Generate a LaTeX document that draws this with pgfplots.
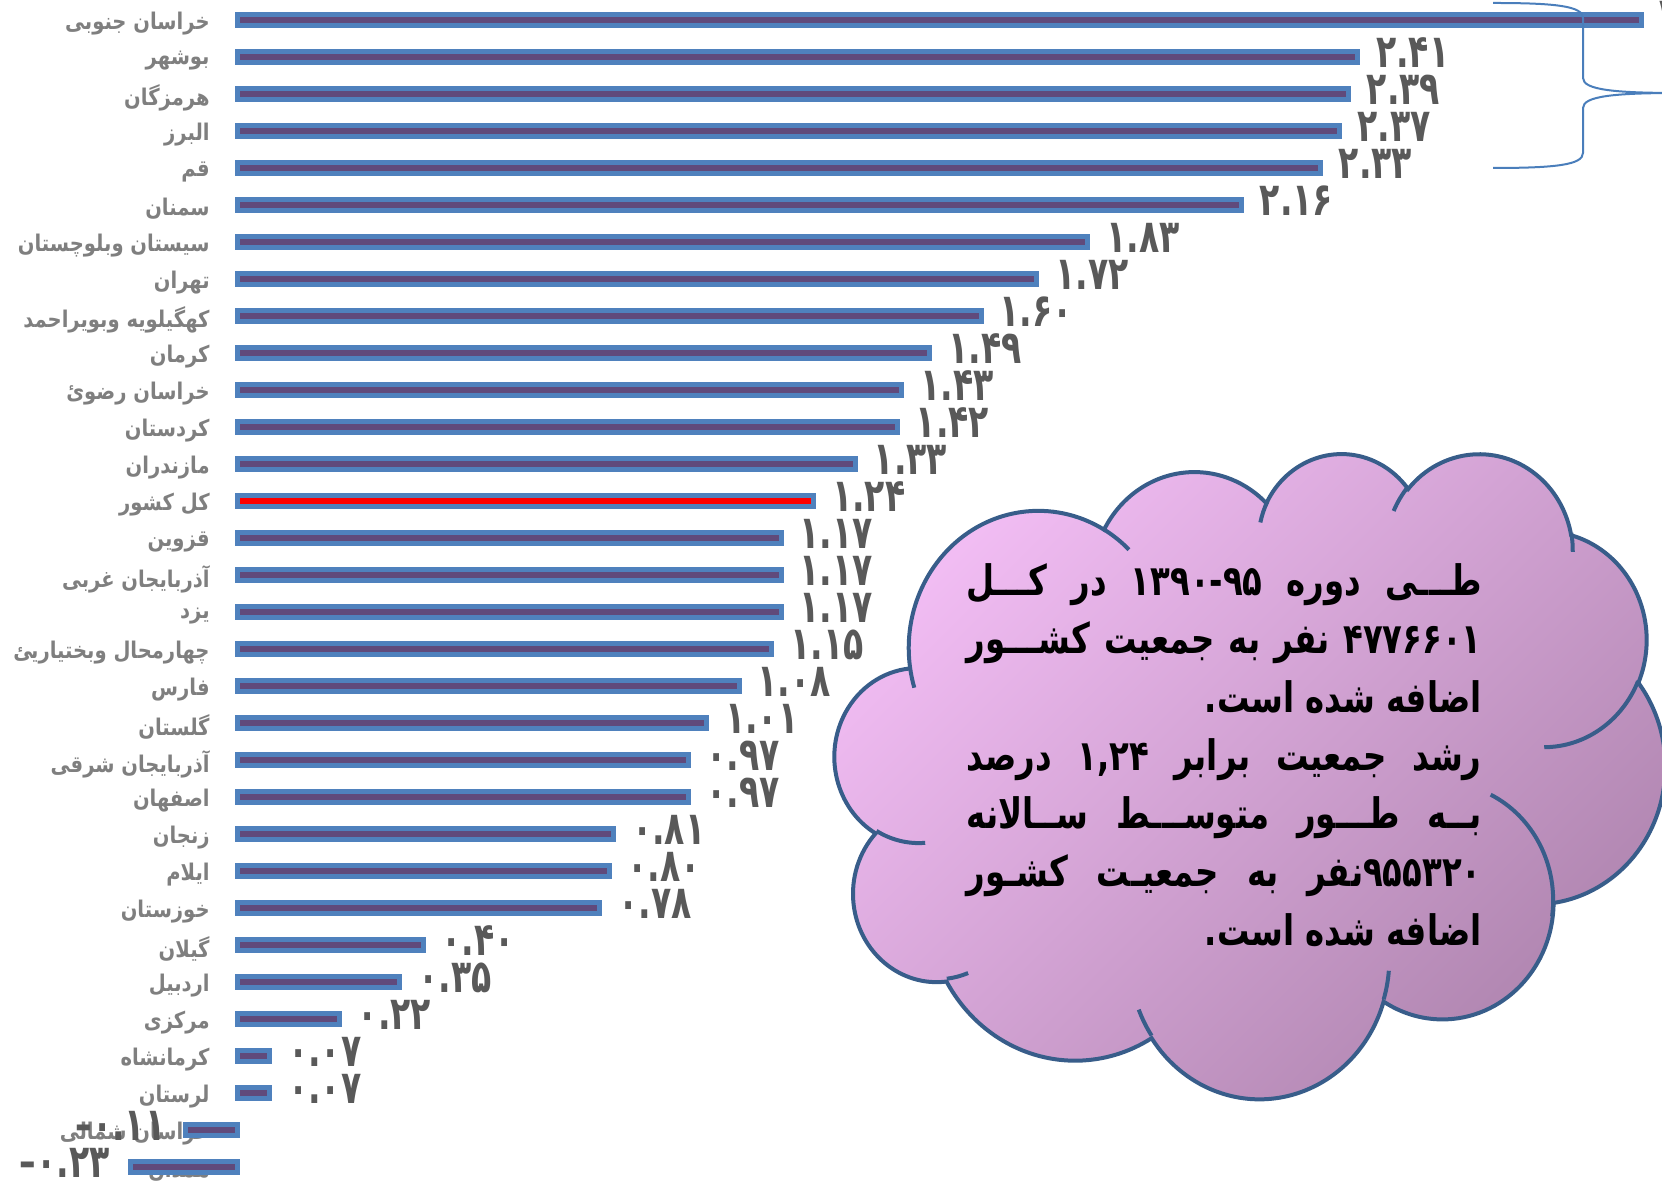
\documentclass[border=0pt]{standalone}
\usepackage{pgfplots}
\pgfplotsset{compat=1.18}
\usepackage{pgfplotstable}
\usepackage{fontspec}
\TeXXeTstate=1
\newfontfamily\arabicfont[Script=Arabic,FakeStretch=0.85]{DejaVu Sans}
\newfontfamily\valfont[Script=Arabic,FakeStretch=0.72]{DejaVu Sans}
\newfontfamily\cloudfont[Script=Arabic,FakeStretch=0.77]{DejaVu Sans}
\definecolor{barblue}{HTML}{4F81BD}
\definecolor{barpurple}{HTML}{604A7B}
\definecolor{catgray}{HTML}{7F7F7F}
\definecolor{valgray}{HTML}{595959}
\definecolor{cloudA}{HTML}{F2BDF4}
\definecolor{cloudB}{HTML}{AE84AE}
\definecolor{cloudline}{HTML}{385D8A}
\definecolor{bracecol}{HTML}{4A7EBB}

% Persian digits for the value labels
\makeatletter
\def\pdig#1{\pdig@#1\@nil}
\def\pdig@#1{\ifx#1\@nil\else\pdig@char#1\expandafter\pdig@\fi}
\def\pdig@char#1{\ifx#1..\else\ifx#1-\mbox{–}\else\ifcase#1 ۰\or ۱\or ۲\or ۳\or ۴\or ۵\or ۶\or ۷\or ۸\or ۹\fi\fi\fi}
\makeatother

\pgfplotstableread[col sep=comma]{
row,value
1,3.02
2,2.41
3,2.39
4,2.37
5,2.33
6,2.16
7,1.83
8,1.72
9,1.60
10,1.49
11,1.43
12,1.42
13,1.33
15,1.17
16,1.17
17,1.17
18,1.15
19,1.08
20,1.01
21,0.97
22,0.97
23,0.81
24,0.80
25,0.78
26,0.40
27,0.35
28,0.22
29,0.07
30,0.07
}\posdata
\pgfplotstableread[col sep=comma]{
row,value
14,1.24
}\totaldata
\pgfplotstableread[col sep=comma]{
row,value
31,-0.11
32,-0.23
}\negdata

\newcommand\ooarc[4]{arc[start angle={pa(#1,#2,#3)}, delta angle={mod(pa(#1,#2,#3+#4)-pa(#1,#2,#3)+720,360)}, x radius=#1, y radius=#2]}

\begin{document}
\begin{tikzpicture}
\begin{axis}[
  at={(0,0)}, anchor=south west, scale only axis,
  width=831pt, height=591pt,
  xmin=-0.5097, xmax=3.0645,
  ymin=0.4595, ymax=32.4054, y dir=reverse,
  axis line style={draw=none}, tick style={draw=none},
  xtick=\empty,
  ytick={1,...,32},
  yticklabels={
    {\beginR خراسان جنوبی\endR},
    {\beginR بوشهر\endR},
    {\beginR هرمزگان\endR},
    {\beginR البرز\endR},
    {\beginR قم\endR},
    {\beginR سمنان\endR},
    {\beginR سیستان وبلوچستان\endR},
    {\beginR تهران\endR},
    {\beginR کهگیلویه وبویراحمد\endR},
    {\beginR کرمان\endR},
    {\beginR خراسان رضوئ\endR},
    {\beginR کردستان\endR},
    {\beginR مازندران\endR},
    {\beginR کل کشور\endR},
    {\beginR قزوین\endR},
    {\beginR آذربایجان غربی\endR},
    {\beginR یزد\endR},
    {\beginR چهارمحال وبختیاریئ\endR},
    {\beginR فارس\endR},
    {\beginR گلستان\endR},
    {\beginR آذربایجان شرقی\endR},
    {\beginR اصفهان\endR},
    {\beginR زنجان\endR},
    {\beginR ایلام\endR},
    {\beginR خوزستان\endR},
    {\beginR گیلان\endR},
    {\beginR اردبیل\endR},
    {\beginR مرکزی\endR},
    {\beginR کرمانشاه\endR},
    {\beginR لرستان\endR},
    {\beginR خراسان شمالی\endR},
    {\beginR همدان\endR}},
  yticklabel style={font=\arabicfont\bfseries\fontsize{11.5}{14}\selectfont, text=catgray, anchor=east, inner sep=0pt, xshift=105pt, yshift=-2pt},
  clip=false,
]
\addplot[xbar, bar shift=0pt, bar width=5.5pt, fill=barpurple, draw=barblue, line width=2.5pt,
  point meta=explicit symbolic,
  nodes near coords={\expandafter\pdig\expandafter{\pgfplotspointmeta}},
  every node near coord/.append style={font=\valfont\bfseries\fontsize{23}{25}\selectfont, text=valgray, inner sep=0pt, anchor=west, xshift=8pt, yshift=2pt}]
  table[x=value, y=row, meta=value] {\posdata};
\addplot[xbar, bar shift=0pt, bar width=5.5pt, fill=red, draw=barblue, line width=2.5pt,
  point meta=explicit symbolic,
  nodes near coords={\expandafter\pdig\expandafter{\pgfplotspointmeta}},
  every node near coord/.append style={font=\valfont\bfseries\fontsize{23}{25}\selectfont, text=valgray, inner sep=0pt, anchor=west, xshift=8pt, yshift=2pt}]
  table[x=value, y=row, meta=value] {\totaldata};
\addplot[xbar, bar shift=0pt, bar width=5.5pt, fill=barpurple, draw=barblue, line width=2.5pt,
  point meta=explicit symbolic,
  nodes near coords={\expandafter\pdig\expandafter{\pgfplotspointmeta}},
  every node near coord/.append style={font=\valfont\bfseries\fontsize{23}{25}\selectfont, text=valgray, inner sep=0pt, anchor=east, xshift=-9pt, yshift=2pt}]
  table[x=value, y=row, meta=value] {\negdata};
\end{axis}

% brace (pixel coordinates, y downwards)
\begin{scope}[x=0.5pt, y=-0.5pt, shift={(0pt,591pt)}]
\draw[bracecol, line width=1pt] (1493,3) .. controls (1555,3) and (1583,6) .. (1583,18) -- (1583,78)
  .. controls (1583,90) and (1615,93) .. (1680,93) .. controls (1615,93) and (1583,96) .. (1583,108)
  -- (1583,153) .. controls (1583,165) and (1555,168) .. (1493,168);
\end{scope}

% cloud
\begin{scope}[shift={(417.5pt,365pt)}, x=0.9606pt, y=-0.7465pt,
  declare function={pa(\w,\h,\a)=atan2(\w*sin(\a),\h*cos(\a));}]
\path[draw=cloudline, line width=2pt, top color=cloudA, bottom color=cloudB, shading angle=45]
  (39.00,143.70) \ooarc{67.53}{91.90}{-190.4875}{123.7805}
  \ooarc{53.33}{72.67}{-144.1024}{89.9452}
  \ooarc{43.65}{59.45}{-145.8079}{99.7230}
  \ooarc{48.57}{65.95}{-130.9861}{117.2417}
  \ooarc{53.33}{72.73}{-78.7089}{109.0269}
  \ooarc{67.75}{92.20}{-46.2673}{130.2690}
  \ooarc{57.85}{78.67}{0.6250}{114.0333}
  \ooarc{67.52}{92.15}{22.4516}{115.1726}
  \ooarc{77.20}{105.43}{66.2426}{75.7110}
  \ooarc{43.60}{59.18}{-274.9421}{146.7356}
  \ooarc{43.45}{59.45}{-246.8285}{152.5189} -- cycle;
\draw[cloudline, line width=2pt]
  (46.93,261.77) \ooarc{43.45}{59.45}{86.7420}{26.4295}
  (69.28,348.99) \ooarc{43.60}{59.18}{73.6105}{11.4475}
  (164.78,390.90) \ooarc{67.52}{92.15}{137.6242}{14.0811}
  (288.27,347.51) \ooarc{67.52}{92.15}{6.4533}{15.9984}
  (341.29,229.54) \ooarc{57.85}{78.67}{-70.2924}{80.6640}
  (417.98,153.54) \ooarc{53.33}{72.73}{30.1817}{59.63}
  (383.24,54.26) \ooarc{48.57}{65.95}{-13.7443}{14.8589}
  (290.78,39.52) \ooarc{48.57}{65.95}{-149.1815}{18.1954}
  (221.41,47.20) \ooarc{43.65}{59.45}{-163.4943}{17.6864}
  (140.00,51.92) \ooarc{67.53}{91.90}{-66.7070}{12.3194}
  (41.27,157.89) \ooarc{67.53}{91.90}{157.6544}{11.8582};
\end{scope}

% cloud text
\begin{scope}[x=0.5pt, y=-0.5pt, shift={(0pt,591pt)},
  every node/.style={anchor=base east, inner sep=0pt, font=\cloudfont\bfseries\fontsize{21}{25}\selectfont}]
\node at (1482,596) {\hbox to 257.5pt{\beginR طـــی\hfill دوره\hfill ۱۳۹۰-۹۵\hfill در\hfill کـــل\endR}};
\node at (1482,654) {\hbox to 257.5pt{\beginR ۴۷۷۶۶۰۱\hfill نفر\hfill به\hfill جمعیت\hfill کشـــور\endR}};
\node at (1482,713) {\hbox{\beginR اضافه شده است.\endR}};
\node at (1482,771) {\hbox to 257.5pt{\beginR رشد\hfill جمعیت\hfill برابر\hfill ۱,۲۴\hfill درصد\endR}};
\node at (1482,829) {\hbox to 257.5pt{\beginR بــه\hfill طـــور\hfill متوســـط\hfill ســالانه\endR}};
\node at (1482,887) {\hbox to 257.5pt{\beginR \mbox{۹۵۵۳۲۰}\mbox{نفر}\hfill به\hfill جمعیـت\hfill کشـور\endR}};
\node at (1482,946) {\hbox{\beginR اضافه شده است.\endR}};
\end{scope}

\pgfresetboundingbox
\path (0,0) rectangle (831pt,591pt);
\end{tikzpicture}
\end{document}
